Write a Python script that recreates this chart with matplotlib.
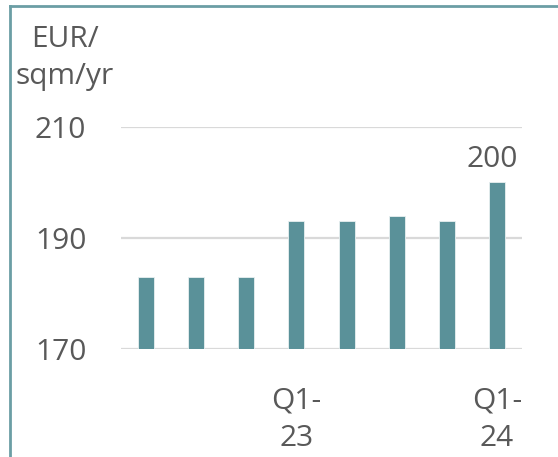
import numpy as np
import matplotlib.pyplot as plt
from matplotlib.lines import Line2D

# data
quarters = ['Q2-22', 'Q3-22', 'Q4-22', 'Q1-23', 'Q2-23', 'Q3-23', 'Q4-23', 'Q1-24']
rent = [183, 183, 183, 193, 193, 194, 193, 200]
tick_labels = ['', '', '', 'Q1-\n23', '', '', '', 'Q1-\n24']
y_ticks = [170, 190, 210]

bar_color = '#5A9199'
grid_color = '#D9D9D9'
text_color = '#595959'
fs = 21.5

plt.rcParams['font.family'] = ['Open Sans', 'DejaVu Sans']

W, H = 558, 457
fig = plt.figure(figsize=(W / 100, H / 100), dpi=100)
ax = fig.add_axes([121 / W, 1 - 349 / H, 401 / W, 222 / H])

x = np.arange(len(rent))
ax.bar(x, rent, width=0.32, color=bar_color, edgecolor='#E8F0F1', linewidth=0.6, zorder=3)
ax.set_xlim(-0.5, len(rent) - 0.5)
ax.set_ylim(170, 210)

for y in y_ticks:
    ax.axhline(y, color=grid_color, lw=1.6, zorder=1)

ax.set_yticks(y_ticks)
ax.set_yticklabels([str(v) for v in y_ticks], fontsize=fs, color=text_color)
ax.set_xticks(x)
ax.set_xticklabels(tick_labels, fontsize=fs, color=text_color, linespacing=1.38)
ax.tick_params(axis='y', length=0, pad=25)
ax.tick_params(axis='x', length=0, pad=27)
for s in ax.spines.values():
    s.set_visible(False)

# value label on last bar
ax.text(x[-1] - 0.1, rent[-1] + 1.6, str(rent[-1]), ha='center', va='bottom',
        fontsize=fs, color=text_color)

# unit label
fig.text(65 / W, 1 - 58 / H, 'EUR/\nsqm/yr', ha='center', va='center',
         fontsize=fs, color=text_color, linespacing=1.38)

# frame (partly cropped)
fig.add_artist(Line2D([10 / W, 10 / W], [0, 1 - 6 / H], color='#6B9EA5', lw=2,
                      transform=fig.transFigure))
fig.add_artist(Line2D([10 / W, 1], [1 - 6 / H, 1 - 6 / H], color='#6B9EA5', lw=2,
                      transform=fig.transFigure))

fig.savefig('out.png', dpi=100)
